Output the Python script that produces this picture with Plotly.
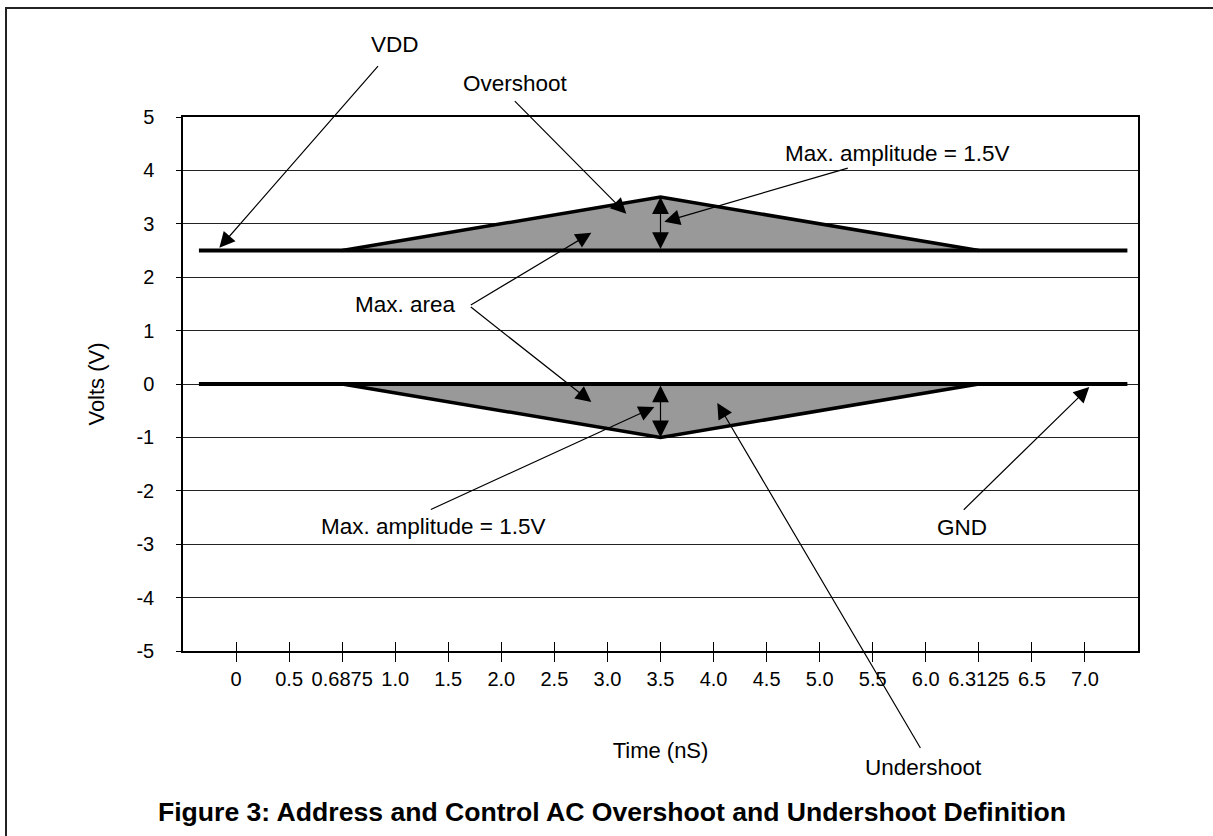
import plotly.graph_objects as go

# ---- data ----
time_labels = ["0", "0.5", "0.6875", "1.0", "1.5", "2.0", "2.5", "3.0", "3.5",
               "4.0", "4.5", "5.0", "5.5", "6.0", "6.3125", "6.5", "7.0"]
tick_pos = list(range(len(time_labels)))          # evenly spaced category slots
volt_ticks = [-5, -4, -3, -2, -1, 0, 1, 2, 3, 4, 5]
volt_labels = [str(v) for v in volt_ticks]

# waveform break points, in category-slot units
wave_x = [-0.7, 2, 8, 14, 16.8]
vdd_y = [2.5, 2.5, 3.5, 2.5, 2.5]
gnd_y = [0, 0, -1, 0, 0]

FONT = "Liberation Sans, Arial, sans-serif"
BLACK = "#000000"

fig = go.Figure()

fig.add_trace(go.Scatter(x=wave_x[1:4], y=vdd_y[1:4], mode="lines", fill="toself",
                         fillcolor="#999999", line=dict(color=BLACK, width=3.5),
                         hoverinfo="skip", showlegend=False))
fig.add_trace(go.Scatter(x=wave_x[1:4], y=gnd_y[1:4], mode="lines", fill="toself",
                         fillcolor="#999999", line=dict(color=BLACK, width=3.5),
                         hoverinfo="skip", showlegend=False))
fig.add_trace(go.Scatter(x=[wave_x[0], wave_x[-1]], y=[vdd_y[0], vdd_y[-1]], mode="lines",
                         line=dict(color=BLACK, width=4), hoverinfo="skip", showlegend=False))
fig.add_trace(go.Scatter(x=[wave_x[0], wave_x[-1]], y=[gnd_y[0], gnd_y[-1]], mode="lines",
                         line=dict(color=BLACK, width=4), hoverinfo="skip", showlegend=False))
fig.add_trace(go.Scatter(x=[wave_x[0]], y=[gnd_y[0]], xaxis="x2", mode="markers",
                         marker=dict(opacity=0), hoverinfo="skip", showlegend=False))

W, H = 1213, 836
ML, MR, MT, MB = 183, 75, 117, 185
PW, PH = W - ML - MR, H - MT - MB

X0, DX = 236.7, 53.06
Y0, DY = 384.0, 53.33


def dx(px):
    return (px - X0) / DX


def dy(py):
    return (Y0 - py) / DY


annotations = []


def label(text, px, py, size=22.5):
    annotations.append(dict(x=(px - ML) / PW, y=(MT + PH - py) / PH, xref="paper", yref="paper",
                            xanchor="center", yanchor="middle", text=text, showarrow=False,
                            font=dict(family=FONT, size=size, color=BLACK)))


def arrow(tail, head):
    annotations.append(dict(x=dx(head[0]), y=dy(head[1]), ax=dx(tail[0]), ay=dy(tail[1]),
                            xref="x", yref="y", axref="x", ayref="y", text="",
                            showarrow=True, arrowhead=2, arrowsize=2.6, arrowwidth=1.2,
                            arrowcolor=BLACK, standoff=0, startstandoff=0))


label("VDD", 395, 44)
arrow((380, 65), (220, 248))
label("Overshoot", 515, 83)
arrow((514, 100), (627, 214))
label("Max. amplitude = 1.5V", 897, 153)
arrow((850, 168), (665, 222))
label("Max. area", 405, 304)
arrow((470, 306), (592, 233))
arrow((470, 306), (592, 402))
label("Max. amplitude = 1.5V", 433, 526)
arrow((430, 510), (655, 407))
label("GND", 962, 527)
arrow((963, 511), (1090, 387))
label("Undershoot", 923, 767)
arrow((922, 749), (718, 403))

# double-headed amplitude markers at the peak slot
for y_from, y_to in [(vdd_y[0], vdd_y[2]), (gnd_y[0], gnd_y[2])]:
    annotations.append(dict(x=wave_x[2], y=y_to, ax=wave_x[2], ay=y_from, xref="x", yref="y",
                            axref="x", ayref="y", text="", showarrow=True, arrowhead=2,
                            arrowsize=2.8, arrowwidth=1.2, startarrowhead=2, startarrowsize=2.8,
                            arrowside="end+start", arrowcolor=BLACK, standoff=0, startstandoff=0))

fig.update_layout(
    width=W, height=H,
    margin=dict(l=ML, r=MR, t=MT, b=MB),
    paper_bgcolor="white", plot_bgcolor="white",
    font=dict(family=FONT, color=BLACK),
    title=dict(text="<b>Figure 3: Address and Control AC Overshoot and Undershoot Definition</b>",
               x=612 / W, xanchor="center", y=1 - 812 / H, yanchor="middle",
               yref="container", font=dict(family=FONT, size=26.6, color=BLACK)),
    xaxis=dict(range=[-1, 17], tickmode="array", tickvals=tick_pos, ticktext=time_labels,
               ticks="outside", ticklen=9, tickwidth=1, tickcolor=BLACK,
               showgrid=False, zeroline=False, showline=True, linecolor=BLACK,
               linewidth=1.5, mirror=True, tickfont=dict(size=20),
               title=dict(text="Time (nS)", font=dict(size=22), standoff=54)),
    xaxis2=dict(range=[-1, 17], overlaying="x", anchor="y", side="bottom",
                tickmode="array", tickvals=tick_pos, ticks="inside", ticklen=9,
                tickwidth=1, tickcolor=BLACK, showticklabels=False, showgrid=False,
                zeroline=False, showline=False),
    yaxis=dict(range=[-5, 5], tickmode="array", tickvals=volt_ticks, ticktext=volt_labels,
               ticks="outside", ticklen=5, tickwidth=1, tickcolor=BLACK,
               showgrid=True, gridcolor="#222222", gridwidth=1, zeroline=False,
               showline=True, linecolor=BLACK, linewidth=1.5, mirror=True,
               tickfont=dict(size=20), ticklabelstandoff=18,
               title=dict(text="Volts (V)", font=dict(size=22), standoff=26)),
    annotations=annotations,
    shapes=[dict(type="rect", xref="paper", yref="paper",
                 x0=(6 - ML) / PW, x1=(W + 20 - ML) / PW,
                 y0=(MT + PH - (H + 20)) / PH, y1=(MT + PH - 8) / PH,
                 line=dict(color="#222222", width=2), fillcolor="rgba(0,0,0,0)", layer="below")],
)

fig.write_html("out.html", config={"displayModeBar": False},
               post_script="document.body.style.margin='0px';")
